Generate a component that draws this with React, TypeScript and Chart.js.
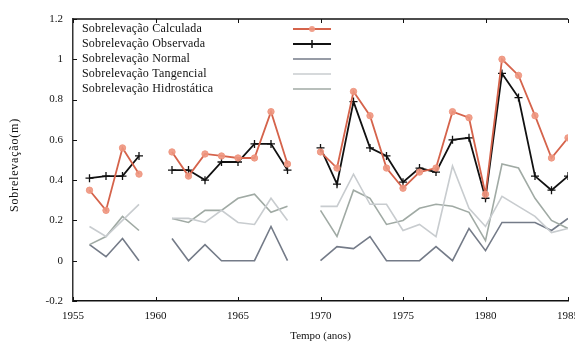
import React, { useEffect, useRef } from "react";
import { Chart, registerables } from "chart.js";

Chart.register(...registerables);

const years = [
  1956, 1957, 1958, 1959, 1960, 1961, 1962, 1963, 1964, 1965, 1966, 1967, 1968, 1969, 1970,
  1971, 1972, 1973, 1974, 1975, 1976, 1977, 1978, 1979, 1980, 1981, 1982, 1983, 1984, 1985,
];
const calculada = [
  0.35, 0.25, 0.56, 0.43, null, 0.54, 0.42, 0.53, 0.52, 0.51, 0.51, 0.74, 0.48, null, 0.54,
  0.46, 0.84, 0.72, 0.46, 0.36, 0.44, 0.46, 0.74, 0.71, 0.33, 1.0, 0.92, 0.72, 0.51, 0.61,
];
const observada = [
  0.41, 0.42, 0.42, 0.52, null, 0.45, 0.45, 0.4, 0.49, 0.49, 0.58, 0.58, 0.45, null, 0.56,
  0.38, 0.79, 0.56, 0.52, 0.39, 0.46, 0.44, 0.6, 0.61, 0.31, 0.93, 0.81, 0.42, 0.35, 0.42,
];
const normal = [
  0.08, 0.02, 0.11, 0.0, null, 0.11, 0.0, 0.08, 0.0, 0.0, 0.0, 0.17, 0.0, null, 0.0,
  0.07, 0.06, 0.12, 0.0, 0.0, 0.0, 0.07, 0.0, 0.16, 0.05, 0.19, 0.19, 0.19, 0.15, 0.21,
];
const tangencial = [
  0.17, 0.12, 0.2, 0.28, null, 0.21, 0.21, 0.19, 0.25, 0.19, 0.18, 0.31, 0.2, null, 0.27,
  0.27, 0.43, 0.28, 0.28, 0.15, 0.18, 0.12, 0.47, 0.26, 0.17, 0.32, 0.27, 0.22, 0.14, 0.16,
];
const hidrostatica = [
  0.08, 0.12, 0.22, 0.15, null, 0.21, 0.19, 0.25, 0.25, 0.31, 0.33, 0.24, 0.27, null, 0.25,
  0.12, 0.35, 0.31, 0.18, 0.2, 0.26, 0.28, 0.27, 0.24, 0.1, 0.48, 0.46, 0.31, 0.2, 0.16,
];

const seriesLabels = [
  "Sobrelevação Calculada",
  "Sobrelevação Observada",
  "Sobrelevação Normal",
  "Sobrelevação Tangencial",
  "Sobrelevação Hidrostática",
];
const xTitle = "Tempo (anos)";
const yTitle = "Sobrelevação(m)";

const SERIF = "'Liberation Serif', 'DejaVu Serif', serif";
const RED = "#d5634b";
const RED_PT = "rgba(238,150,128,0.9)";
const BLACK = "#111111";
const C_NORMAL = "#747b88";
const C_TANG = "#c8cccf";
const C_HIDRO = "#a0aaa4";

const toPts = (arr: (number | null)[]) => years.map((y, i) => ({ x: y, y: arr[i] }));

const decorPlugin = {
  id: "decor",
  afterDraw(chart: any) {
    const ctx = chart.ctx;
    const { left, right, top, bottom } = chart.chartArea;
    const xs = chart.scales.x;
    const ys = chart.scales.y;
    ctx.save();
    // top border
    ctx.strokeStyle = "#111";
    ctx.lineWidth = 1.5;
    ctx.beginPath();
    ctx.moveTo(left, top);
    ctx.lineTo(right, top);
    ctx.stroke();
    // inward ticks
    ctx.lineWidth = 1;
    ys.ticks.forEach((t: any) => {
      const py = Math.round(ys.getPixelForValue(t.value)) + 0.5;
      ctx.beginPath();
      ctx.moveTo(left, py);
      ctx.lineTo(left + 4, py);
      ctx.stroke();
    });
    xs.ticks.forEach((t: any) => {
      const px = Math.round(xs.getPixelForValue(t.value)) + 0.5;
      ctx.beginPath();
      ctx.moveTo(px, bottom);
      ctx.lineTo(px, bottom - 4);
      ctx.moveTo(px, top);
      ctx.lineTo(px, top + 4);
      ctx.stroke();
    });
    // y-axis title (with slight letter spacing like the reference)
    ctx.save();
    ctx.translate(15, (top + bottom) / 2 + 5);
    ctx.rotate(-Math.PI / 2);
    ctx.font = `12px ${SERIF}`;
    try { (ctx as any).letterSpacing = "0.8px"; } catch (e) {}
    ctx.fillStyle = "#111";
    ctx.textAlign = "center";
    ctx.textBaseline = "middle";
    ctx.fillText(yTitle, 0, 0);
    ctx.restore();
    // legend
    const colors = [RED, BLACK, C_NORMAL, C_TANG, C_HIDRO];
    ctx.font = `12px ${SERIF}`;
    try { (ctx as any).letterSpacing = "0.2px"; } catch (e) {}
    ctx.fillStyle = "#111";
    ctx.textBaseline = "middle";
    ctx.textAlign = "left";
    const tx = left + 9;
    const lx0 = left + 220;
    const lx1 = left + 258;
    seriesLabels.forEach((lab, i) => {
      const yy = top + 10 + i * 15;
      ctx.fillStyle = "#111";
      ctx.fillText(lab, tx, yy);
      ctx.strokeStyle = colors[i];
      ctx.lineWidth = i < 2 ? 2 : 1.5;
      ctx.beginPath();
      ctx.moveTo(lx0, yy);
      ctx.lineTo(lx1, yy);
      ctx.stroke();
      const mx = (lx0 + lx1) / 2;
      if (i === 0) {
        ctx.fillStyle = RED_PT;
        ctx.beginPath();
        ctx.arc(mx, yy, 3, 0, Math.PI * 2);
        ctx.fill();
      } else if (i === 1) {
        ctx.lineWidth = 1.5;
        ctx.beginPath();
        ctx.moveTo(mx, yy - 4);
        ctx.lineTo(mx, yy + 4);
        ctx.stroke();
      }
    });
    ctx.restore();
  },
};

export default function App() {
  const ref = useRef<HTMLCanvasElement | null>(null);
  useEffect(() => {
    if (!ref.current) return;
    const grayLine = (label: string, data: (number | null)[], color: string) => ({
      label,
      data: toPts(data),
      borderColor: color,
      backgroundColor: color,
      borderWidth: 1.6,
      pointRadius: 0,
      spanGaps: false,
      tension: 0,
    });
    const chart = new Chart(ref.current, {
      type: "line",
      data: {
        datasets: [
          grayLine(seriesLabels[3], tangencial, C_TANG),
          grayLine(seriesLabels[4], hidrostatica, C_HIDRO),
          grayLine(seriesLabels[2], normal, C_NORMAL),
          {
            label: seriesLabels[0],
            data: toPts(calculada),
            borderColor: RED,
            backgroundColor: RED_PT,
            borderWidth: 1.8,
            pointStyle: "circle",
            pointRadius: 3.2,
            pointBorderColor: RED_PT,
            pointBorderWidth: 1,
            spanGaps: false,
          },
          {
            label: seriesLabels[1],
            data: toPts(observada),
            borderColor: BLACK,
            backgroundColor: BLACK,
            borderWidth: 1.8,
            pointStyle: "cross",
            pointRadius: 4,
            pointBorderWidth: 1.3,
            spanGaps: false,
          },
        ],
      },
      options: {
        responsive: false,
        animation: false,
        events: [],
        layout: { padding: { left: 0, top: 19, right: 7, bottom: 0 } },
        plugins: { legend: { display: false }, tooltip: { enabled: false } },
        scales: {
          x: {
            type: "linear",
            min: 1955,
            max: 1985,
            ticks: {
              stepSize: 5,
              padding: 9,
              color: "#111",
              font: { family: SERIF, size: 11 },
              callback: (v: any) => String(v),
              maxRotation: 0,
            },
            grid: { display: true, drawOnChartArea: false, drawTicks: false },
            border: { display: true, color: "#111", width: 1.5 },
            title: {
              display: true,
              text: xTitle,
              color: "#111",
              font: { family: SERIF, size: 11 },
              padding: { top: 0, bottom: 1 },
            },
            afterFit: (s: any) => {
              s.height = 43;
              s.paddingLeft = 0;
              s.paddingRight = 0;
            },
          },
          y: {
            min: -0.2,
            max: 1.2,
            ticks: {
              stepSize: 0.2,
              padding: 10,
              color: "#111",
              font: { family: SERIF, size: 11 },
              callback: (v: any) => String(Math.round(v * 10) / 10),
            },
            grid: { display: true, drawOnChartArea: false, drawTicks: false },
            border: { display: true, color: "#333", width: 1.5 },
            title: { display: false },
            afterFit: (s: any) => {
              s.width = 73;
              s.paddingTop = 0;
              s.paddingBottom = 0;
            },
          },
        },
      },
      plugins: [decorPlugin],
    } as any);
    return () => chart.destroy();
  }, []);
  return (
    <div style={{ position: "absolute", left: 0, top: 0, width: 575, height: 344, background: "#fff" }}>
      <canvas ref={ref} width={575} height={344} style={{ display: "block" }} />
    </div>
  );
}
